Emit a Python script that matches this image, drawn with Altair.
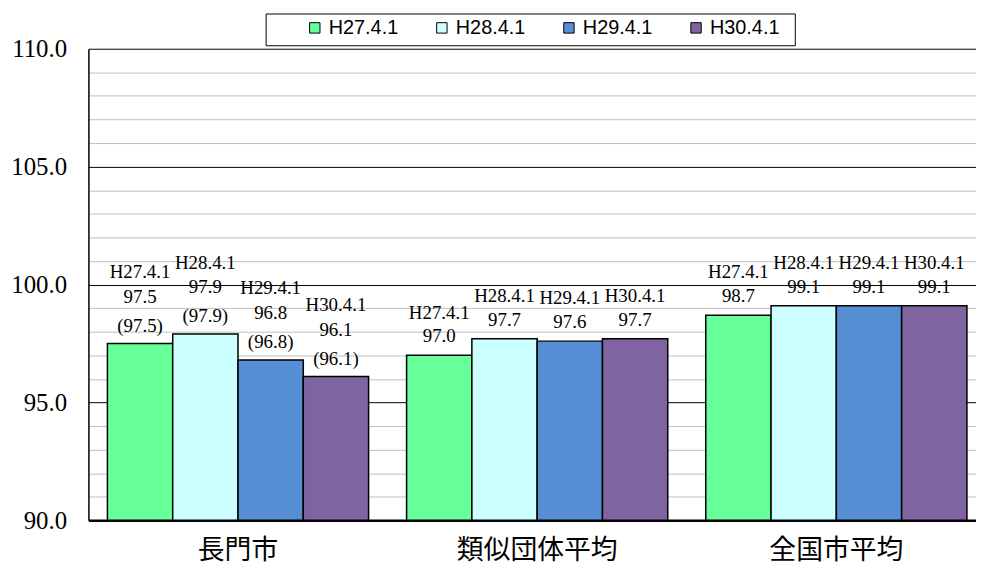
import altair as alt
import pandas as pd

categories = ["長門市", "類似団体平均", "全国市平均"]
series = ["H27.4.1", "H28.4.1", "H29.4.1", "H30.4.1"]
colors = ["#66FF99", "#CCFFFF", "#558ED5", "#8064A2"]
nagato = [97.5, 97.9, 96.8, 96.1]
ruiji = [97.0, 97.7, 97.6, 97.7]
zenkoku = [98.7, 99.1, 99.1, 99.1]
nagato_paren = [97.5, 97.9, 96.8, 96.1]
y_ticks = list(range(90, 111))

rows = []
line_rows = []
for cat, vals in zip(categories, [nagato, ruiji, zenkoku]):
    for i, (s, v) in enumerate(zip(series, vals)):
        rows.append({"cat": cat, "series": s, "value": v})
        has_paren = cat == "長門市"
        lines = [f"{v:.1f}", s]
        if has_paren:
            lines = [f"({nagato_paren[i]:.1f})"] + lines
        for r, t in enumerate(lines):
            line_rows.append({"cat": cat, "series": s, "value": v, "line": t,
                              "rank": r, "paren": int(has_paren)})
df = pd.DataFrame(rows)
lines_df = pd.DataFrame(line_rows)

x_enc = alt.X(
    "cat:N", sort=categories,
    scale=alt.Scale(paddingInner=0.127, paddingOuter=0.0635),
    axis=alt.Axis(title=None, labelAngle=0, ticks=False, labelFont="Noto Sans CJK JP",
                  labelFontSize=27, labelPadding=17, labelColor="black",
                  domainColor="black", domainWidth=2.5, labelBaseline="top"),
)
xoff_enc = alt.XOffset("series:N", sort=series, scale=alt.Scale(paddingInner=0, paddingOuter=0))
y_enc = alt.Y(
    "value:Q",
    scale=alt.Scale(domain=[90, 110], zero=False, nice=False),
    axis=alt.Axis(
        title=None, values=y_ticks,
        labelExpr="datum.value % 5 === 0 ? format(datum.value, '.1f') : ''",
        ticks=False, labelPadding=22, labelFont="Liberation Serif", labelFontSize=25,
        labelColor="black", domainColor="black", domainWidth=1.5,
        gridColor={"condition": {"test": "datum.value % 5 === 0", "value": "black"}, "value": "#bfbfbf"},
        gridWidth=1, gridOpacity=1, labelFlush=False, labelOverlap=False, labelBound=False,
    ),
)

legend_box = alt.Chart(pd.DataFrame({"k": [0]})).mark_rect(
    fill="white", stroke="black", strokeWidth=1
).encode(x=alt.value(179), x2=alt.value(712), y=alt.value(-35), y2=alt.value(-3))

bars = alt.Chart(df).mark_bar(stroke="black", strokeWidth=1.5).encode(
    x=x_enc, xOffset=xoff_enc, y=y_enc, y2=alt.datum(90),
    color=alt.Color(
        "series:N", sort=series, scale=alt.Scale(domain=series, range=colors),
        legend=alt.Legend(
            orient="none", legendX=218, legendY=-31, direction="horizontal", columns=4,
            title=None,
            symbolType="square", symbolSize=110, symbolStrokeColor="black", symbolStrokeWidth=1,
            labelFont="Liberation Sans", labelFontSize=20, labelColor="black", labelOffset=4,
            columnPadding=33, padding=0,
        ),
    ),
)

# (paren flag, rank) -> vertical offset of the line above the bar top
offsets = [(1, 0, -8), (1, 1, -37), (1, 2, -62), (0, 0, -9), (0, 1, -33)]
text_layers = []
for p, r, dy in offsets:
    text_layers.append(
        alt.Chart(lines_df).transform_filter(f"datum.rank == {r} && datum.paren == {p}").mark_text(
            baseline="bottom", dy=dy, font="Liberation Serif", fontSize=19, color="black",
        ).encode(x=x_enc, xOffset=xoff_enc, y=y_enc, text="line:N")
    )

chart = alt.layer(legend_box, bars, *text_layers).properties(
    width=904, height=475,
    padding={"left": 81, "top": 39, "right": -10, "bottom": 49},
    autosize=alt.AutoSizeParams(type="none"),
).configure_view(stroke=None)

chart.save("out.html", embed_options={"renderer": "svg", "actions": False})
